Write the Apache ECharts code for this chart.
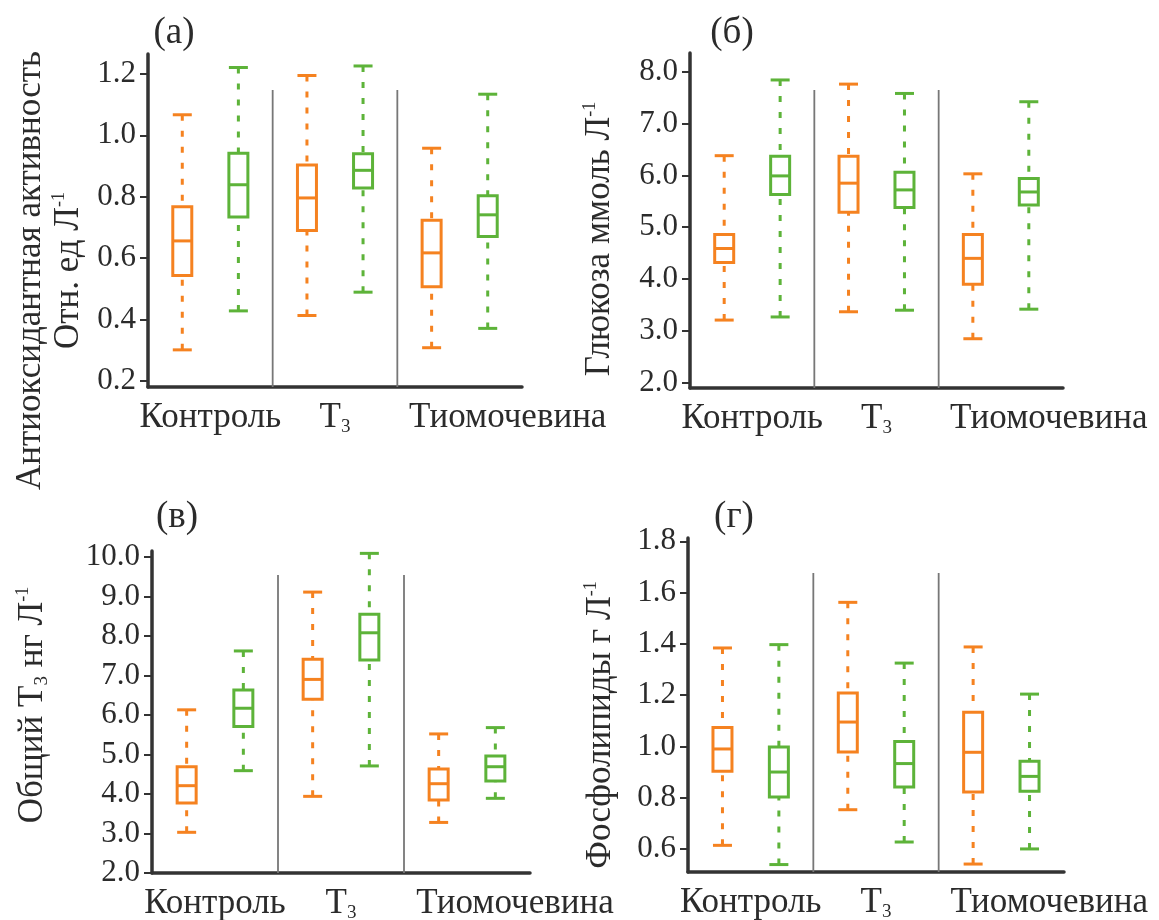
<!DOCTYPE html>
<html>
<head>
<meta charset="utf-8">
<script src="https://cdn.jsdelivr.net/npm/echarts@6/dist/echarts.min.js"></script>
<style>html,body{margin:0;padding:0;background:#fff}#c{width:1159px;height:920px}</style>
</head>
<body>
<div id="c"></div>
<script>
// ---- data ----
const categories = ['Контроль', 'T3', 'Тиомочевина'];

// tick labels
const ticksA = [0.2, 0.4, 0.6, 0.8, 1.0, 1.2];
const ticksB = [2, 3, 4, 5, 6, 7, 8];
const ticksV = [2, 3, 4, 5, 6, 7, 8, 9, 10];
const ticksG = [0.6, 0.8, 1.0, 1.2, 1.4, 1.6, 1.8];

// each row: [min, Q1, median, Q3, max] per category
const antioxOrange = [[0.301, 0.543, 0.656, 0.767, 1.067], [0.413, 0.690, 0.796, 0.903, 1.195], [0.308, 0.507, 0.617, 0.723, 0.958]];
const antioxGreen  = [[0.428, 0.734, 0.839, 0.942, 1.221], [0.489, 0.828, 0.886, 0.940, 1.226], [0.371, 0.670, 0.741, 0.803, 1.134]];

const glucoseOrange = [[3.21, 4.32, 4.59, 4.86, 6.38], [3.37, 5.29, 5.85, 6.37, 7.76], [2.85, 3.90, 4.40, 4.86, 6.03]];
const glucoseGreen  = [[3.27, 5.63, 5.99, 6.37, 7.84], [3.40, 5.38, 5.72, 6.06, 7.58], [3.42, 5.43, 5.68, 5.94, 7.42]];

const t3Orange = [[3.03, 3.77, 4.21, 4.69, 6.13], [3.94, 6.40, 6.90, 7.41, 9.11], [3.28, 3.85, 4.26, 4.63, 5.52]];
const t3Green  = [[4.59, 5.71, 6.17, 6.63, 7.62], [4.71, 7.39, 8.08, 8.55, 10.09], [3.89, 4.33, 4.69, 4.96, 5.68]];

const phosphoOrange = [[0.614, 0.903, 0.990, 1.074, 1.384], [0.753, 0.978, 1.095, 1.208, 1.562], [0.541, 0.822, 0.977, 1.133, 1.388]];
const phosphoGreen  = [[0.539, 0.803, 0.900, 0.998, 1.397], [0.627, 0.842, 0.933, 1.019, 1.325], [0.600, 0.825, 0.883, 0.942, 1.204]];

const separatorsAt = [1, 2]; // category boundaries (before index)

// ---- styling / layout ----
const FONT = "'Liberation Serif', 'DejaVu Serif', serif";
const TXT = '#2b2b2b';
const ORANGE = '#F58220';
const GREEN = '#5DB339';

const panels = [
  { label: '(а)', lx: 174, ly: 33, grid: {left: 148, top: 54, width: 374, height: 333}, min: 0.18, max: 1.265, ticks: ticksA,
    name: 'Антиоксидантная активность\nОтн. ед Л{sup|-1}', nameGap: 60, namePad: [0, 100, 0, 0], sepTop: 36,
    orange: antioxOrange, green: antioxGreen },
  { label: '(б)', lx: 732, ly: 33, grid: {left: 690, top: 53, width: 373, height: 335}, min: 1.9, max: 8.36, ticks: ticksB,
    name: 'Глюкоза ммоль Л{sup|-1}', nameGap: 71, namePad: [0, 37, 0, 0], sepTop: 37,
    orange: glucoseOrange, green: glucoseGreen },
  { label: '(в)', lx: 177, ly: 517, grid: {left: 152, top: 551, width: 378, height: 322}, min: 2.0, max: 10.15, ticks: ticksV,
    name: 'Общий T{sub|3} нг Л{sup|-1}', nameGap: 100, namePad: [0, 0, 0, 14], sepTop: 24,
    orange: t3Orange, green: t3Green },
  { label: '(г)', lx: 734, ly: 517, grid: {left: 688, top: 538, width: 376, height: 334}, min: 0.51, max: 1.813, ticks: ticksG,
    name: 'Фосфолипиды г Л{sup|-1}', nameGap: 68, namePad: [0, 40, 0, 0], sepTop: 35,
    orange: phosphoOrange, green: phosphoGreen }
];

function boxRender(side, color) {
  return function (params, api) {
    const ci = api.value(0);
    const band = api.size([1, 0])[0];
    const cx = api.coord([ci, api.value(3)])[0] + side * band * 0.225;
    const y = k => api.coord([ci, api.value(k)])[1];
    const yMin = y(1), yQ1 = y(2), yMed = y(3), yQ3 = y(4), yMax = y(5);
    const hw = 9.5;
    const solid = {stroke: color, lineWidth: 3, fill: null};
    const dashed = {stroke: color, lineWidth: 3, lineDash: [6, 10], fill: null};
    return {
      type: 'group',
      children: [
        {type: 'line', shape: {x1: cx, y1: yMax, x2: cx, y2: yQ3}, style: dashed},
        {type: 'line', shape: {x1: cx, y1: yMin, x2: cx, y2: yQ1}, style: dashed},
        {type: 'line', shape: {x1: cx - hw, y1: yMax, x2: cx + hw, y2: yMax}, style: solid},
        {type: 'line', shape: {x1: cx - hw, y1: yMin, x2: cx + hw, y2: yMin}, style: solid},
        {type: 'rect', shape: {x: cx - hw, y: yQ3, width: 2 * hw, height: yQ1 - yQ3}, style: {stroke: color, lineWidth: 3, fill: '#fff'}},
        {type: 'line', shape: {x1: cx - hw, y1: yMed, x2: cx + hw, y2: yMed}, style: solid}
      ]
    };
  };
}

function sepRender(topOff) {
  return function (params, api) {
    const ci = api.value(0);
    const band = api.size([1, 0])[0];
    const x = api.coord([ci, api.value(1)])[0] - band / 2;
    const cs = params.coordSys;
    return {type: 'line', shape: {x1: x, y1: cs.y + topOff, x2: x, y2: cs.y + cs.height},
      style: {stroke: '#777', lineWidth: 1.8}};
  };
}

const richBase = {
  sub: {fontSize: 19, lineHeight: 12, verticalAlign: 'bottom', fontFamily: FONT, color: TXT},
  sup: {fontSize: 18, lineHeight: 12, verticalAlign: 'top', fontFamily: FONT, color: TXT},
  sh: {fontSize: 35, fontFamily: FONT, color: TXT, padding: [0, 0, 0, 96]}
};

const option = {
  animation: false,
  backgroundColor: '#fff',
  grid: [], xAxis: [], yAxis: [], series: [],
  graphic: []
};

panels.forEach((p, i) => {
  option.grid.push(Object.assign({containLabel: false, outerBoundsMode: 'none'}, p.grid));
  option.xAxis.push({
    type: 'category', gridIndex: i, data: categories, boundaryGap: true,
    axisLine: {lineStyle: {color: '#333', width: 3.5}},
    axisTick: {show: false}, splitLine: {show: false},
    axisLabel: {
      interval: 0, margin: 12, color: TXT, fontSize: 35, fontFamily: FONT, lineHeight: 38,
      formatter: v => v === 'T3' ? 'T{sub|3}' : (v === 'Тиомочевина' ? '{sh|Тиомочевина}' : v),
      rich: richBase
    }
  });
  option.yAxis.push({
    type: 'value', gridIndex: i, min: p.min, max: p.max,
    name: p.name, nameLocation: 'middle', nameGap: p.nameGap, nameRotate: 90,
    nameTextStyle: {color: TXT, fontSize: 35, fontFamily: FONT, lineHeight: 38, padding: p.namePad, rich: richBase},
    axisLine: {show: true, lineStyle: {color: '#333', width: 3.5}},
    axisTick: {show: true, length: 8, lineStyle: {color: '#333', width: 2}, customValues: p.ticks},
    splitLine: {show: false},
    axisLabel: {color: TXT, fontSize: 31, fontFamily: FONT, margin: 12, customValues: p.ticks, formatter: v => Number(v).toFixed(1)}
  });
  option.series.push({
    type: 'custom', name: 'sep' + i, xAxisIndex: i, yAxisIndex: i, silent: true, z: 1,
    data: separatorsAt.map(s => [s, p.min]), encode: {x: 0, y: 1},
    renderItem: sepRender(p.sepTop)
  });
  option.series.push({
    type: 'custom', name: 'orange' + i, xAxisIndex: i, yAxisIndex: i, z: 3,
    data: p.orange.map((d, k) => [k].concat(d)), encode: {x: 0, y: [1, 2, 3, 4, 5]},
    renderItem: boxRender(-1, ORANGE)
  });
  option.series.push({
    type: 'custom', name: 'green' + i, xAxisIndex: i, yAxisIndex: i, z: 3,
    data: p.green.map((d, k) => [k].concat(d)), encode: {x: 0, y: [1, 2, 3, 4, 5]},
    renderItem: boxRender(1, GREEN)
  });
  option.graphic.push({
    type: 'text', x: p.lx, y: p.ly,
    style: {text: p.label, font: '37px ' + FONT, fill: TXT, textAlign: 'center', textVerticalAlign: 'middle'}
  });
});

const chart = echarts.init(document.getElementById('c'), null, {renderer: 'canvas'});
chart.setOption(option);
</script>
</body>
</html>
